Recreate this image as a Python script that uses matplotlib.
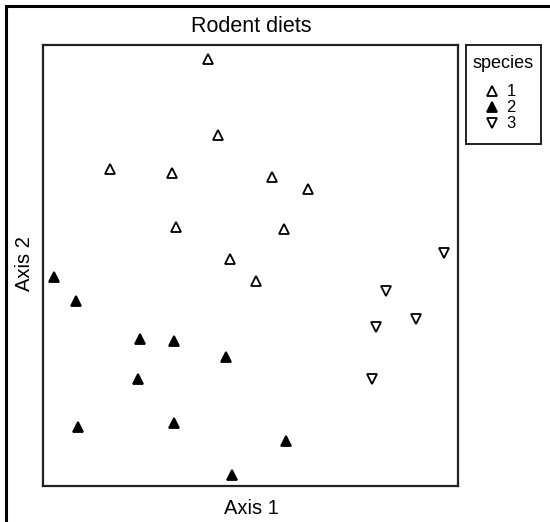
import matplotlib
matplotlib.use("Agg")
import matplotlib.pyplot as plt
from matplotlib.patches import Rectangle

plt.rcParams["font.family"] = ["Liberation Sans", "DejaVu Sans"]

# NMDS-style scores
sp1_x = [-0.21, -0.16, -0.70, -0.39, 0.11, 0.29, -0.37, 0.17, -0.10, 0.03]
sp1_y = [1.03, 0.65, 0.48, 0.46, 0.44, 0.38, 0.19, 0.18, 0.03, -0.08]
sp2_x = [-0.98, -0.87, -0.55, -0.38, -0.12, -0.56, -0.86, -0.38, 0.18, -0.09]
sp2_y = [-0.06, -0.18, -0.37, -0.38, -0.46, -0.57, -0.81, -0.79, -0.88, -1.05]
sp3_x = [0.97, 0.68, 0.83, 0.63, 0.61]
sp3_y = [0.06, -0.13, -0.27, -0.31, -0.57]

species = ["1", "2", "3"]
markers = ["^", "^", "v"]
faces = ["white", "black", "white"]

W, H = 550, 522
fig = plt.figure(figsize=(W / 100, H / 100), dpi=100)


def box(x0, y0, x1, y1):
    # pixel box (top-left origin) -> figure fraction
    return [x0 / W, 1 - y1 / H, (x1 - x0) / W, (y1 - y0) / H]


# outer frame (only top/left visible in the original)
fig.patches.append(Rectangle((6 / W, -0.1), 1.2, 1 - 6 / H + 0.1,
                             transform=fig.transFigure, fill=False,
                             edgecolor="black", linewidth=2.2))

ax = fig.add_axes(box(43, 45, 458, 486))
series = [(sp1_x, sp1_y), (sp2_x, sp2_y), (sp3_x, sp3_y)]
for (xs, ys), m, fc in zip(series, markers, faces):
    ax.plot(xs, ys, linestyle="none", marker=m, markersize=7,
            markerfacecolor=fc, markeredgecolor="black", markeredgewidth=1.3)
ax.set_xlim(-1.035, 1.04)
ax.set_ylim(-1.105, 1.1)
ax.set_xticks([])
ax.set_yticks([])
for s in ax.spines.values():
    s.set_linewidth(1.6)
    s.set_color("#222222")

fig.text(251 / W, 1 - 26 / H, "Rodent diets", ha="center", va="center", fontsize=15.5)
fig.text(251 / W, 1 - 508 / H, "Axis 1", ha="center", va="center", fontsize=14.5)
fig.text(25 / W, 1 - 264 / H, "Axis 2", ha="center", va="center",
         rotation=90, fontsize=14.5)

# legend box
lg = fig.add_axes(box(466, 45, 541, 144))
lg.set_xlim(0, 75)
lg.set_ylim(99, 0)
lg.set_xticks([])
lg.set_yticks([])
for s in lg.spines.values():
    s.set_linewidth(1.4)
    s.set_color("#222222")
lg.text(37.5, 18, "species", ha="center", va="center", fontsize=13)
rows = [46, 62, 78]
for lab, m, fc, yy in zip(species, markers, faces, rows):
    lg.plot([26], [yy], linestyle="none", marker=m, markersize=6.5,
            markerfacecolor=fc, markeredgecolor="black", markeredgewidth=1.3)
    lg.text(45, yy, lab, ha="center", va="center", fontsize=12)

fig.savefig("out.png", dpi=100)
